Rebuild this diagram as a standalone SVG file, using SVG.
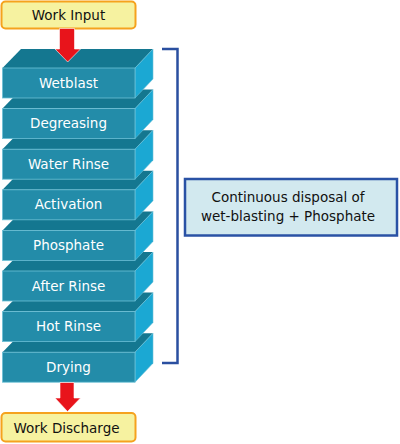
<svg xmlns="http://www.w3.org/2000/svg" width="400" height="444" viewBox="0 0 400 444">
<defs>
<style>
.term{fill:#f6f2a0;stroke:#f5a21e;stroke-width:2}
.front{fill:#238ca9;stroke:#6cc0d6;stroke-width:0.8}
.top{fill:#147790}
.side{fill:#1ba8d3;stroke:#6cc0d6;stroke-width:0.6}
.arrow{fill:#e8141b;stroke:#ffffff;stroke-width:0.6}
.lbl{font-family:"DejaVu Sans","Liberation Sans",sans-serif;font-size:13.5px;text-anchor:middle;fill:#111}
.blbl{font-family:"DejaVu Sans","Liberation Sans",sans-serif;font-size:13.5px;text-anchor:middle;fill:#ffffff}
.brk{fill:none;stroke:#2a4fa0;stroke-width:2.5}
.note{fill:#d2e9ef;stroke:#2a52a5;stroke-width:2.5}
</style>
</defs>
<g id="work-input">
<rect class="term" x="1.5" y="1.5" width="134" height="27" rx="4"/>
<text class="lbl" x="68.5" y="20">Work Input</text>
</g>
<g id="drying">
<polygon class="top" points="2.5,352.2 21,333.2 153,333.2 135,352.2"/>
<polygon class="side" points="135,352.2 153,333.2 153,363.2 135,382.2"/>
<rect class="front" x="2.5" y="352.2" width="132.5" height="30"/>
<text class="blbl" x="68.5" y="371.7">Drying</text>
</g>
<g id="hot-rinse">
<polygon class="top" points="2.5,311.6 21,292.6 153,292.6 135,311.6"/>
<polygon class="side" points="135,311.6 153,292.6 153,322.6 135,341.6"/>
<rect class="front" x="2.5" y="311.6" width="132.5" height="30"/>
<text class="blbl" x="68.5" y="331.1">Hot Rinse</text>
</g>
<g id="after-rinse">
<polygon class="top" points="2.5,271 21,252 153,252 135,271"/>
<polygon class="side" points="135,271 153,252 153,282 135,301"/>
<rect class="front" x="2.5" y="271" width="132.5" height="30"/>
<text class="blbl" x="68.5" y="290.5">After Rinse</text>
</g>
<g id="phosphate">
<polygon class="top" points="2.5,230.4 21,211.4 153,211.4 135,230.4"/>
<polygon class="side" points="135,230.4 153,211.4 153,241.4 135,260.4"/>
<rect class="front" x="2.5" y="230.4" width="132.5" height="30"/>
<text class="blbl" x="68.5" y="249.9">Phosphate</text>
</g>
<g id="activation">
<polygon class="top" points="2.5,189.8 21,170.8 153,170.8 135,189.8"/>
<polygon class="side" points="135,189.8 153,170.8 153,200.8 135,219.8"/>
<rect class="front" x="2.5" y="189.8" width="132.5" height="30"/>
<text class="blbl" x="68.5" y="209.3">Activation</text>
</g>
<g id="water-rinse">
<polygon class="top" points="2.5,149.2 21,130.2 153,130.2 135,149.2"/>
<polygon class="side" points="135,149.2 153,130.2 153,160.2 135,179.2"/>
<rect class="front" x="2.5" y="149.2" width="132.5" height="30"/>
<text class="blbl" x="68.5" y="168.7">Water Rinse</text>
</g>
<g id="degreasing">
<polygon class="top" points="2.5,108.6 21,89.6 153,89.6 135,108.6"/>
<polygon class="side" points="135,108.6 153,89.6 153,119.6 135,138.6"/>
<rect class="front" x="2.5" y="108.6" width="132.5" height="30"/>
<text class="blbl" x="68.5" y="128.1">Degreasing</text>
</g>
<g id="wetblast">
<polygon class="top" points="2.5,68 21,49 153,49 135,68"/>
<polygon class="side" points="135,68 153,49 153,79 135,98"/>
<rect class="front" x="2.5" y="68" width="132.5" height="30"/>
<text class="blbl" x="68.5" y="87.5">Wetblast</text>
</g>
<g id="work-discharge">
<rect class="term" x="1.5" y="413" width="134" height="28.5" rx="4"/>
<text class="lbl" x="66.5" y="433.3">Work Discharge</text>
</g>
<g id="note">
<rect class="note" x="185" y="179" width="212" height="56.5"/>
<text class="lbl" x="288" y="201.7">Continuous disposal of</text>
<text class="lbl" x="288" y="221">wet-blasting + Phosphate</text>
</g>
<g id="connectors">
<polygon class="arrow" points="59.5,28.5 74.5,28.5 74.5,49 80.5,49 67.7,62 55,49 59.5,49"/>
<polygon class="arrow" points="60,382.5 74,382.5 74,398 80.5,398 67.5,411.5 55,398 60,398"/>
<polyline class="brk" points="162,49 177.5,49 177.5,363 162,363"/>
</g>
</svg>
